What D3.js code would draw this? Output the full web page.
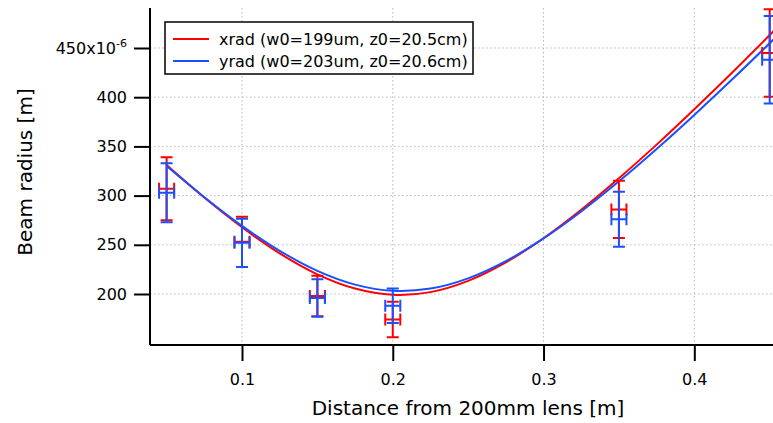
<!DOCTYPE html>
<html>
<head>
<meta charset="utf-8">
<script src="https://cdn.jsdelivr.net/npm/d3@7"></script>
<style>
body { margin: 0; background: #fff; }
text { font-family: "DejaVu Sans", sans-serif; fill: #000; }
</style>
</head>
<body>
<div id="chart"></div>
<script>
// measured beam radius (in 1e-6 m) at each lens distance (m)
var zPos = [0.05, 0.10, 0.15, 0.20, 0.35, 0.45];
var zErr = 0.005;
var xradVal = [307, 253, 198, 174, 286, 445];
var xradErr = [32, 25.5, 20.5, 18, 29, 44.5];
var yradVal = [303, 252, 196, 188, 276, 438];
var yradErr = [30, 24.5, 19, 17.5, 28, 44.5];

// fit curves
var fitZ = [0.05, 0.075, 0.1, 0.125, 0.15, 0.175, 0.2, 0.225, 0.25, 0.275, 0.3, 0.325, 0.35, 0.375, 0.4, 0.425, 0.455];
var xradFit = [331, 298, 267.8, 241.3, 220, 205.5, 199.2, 201.9, 213.3, 232.1, 256.7, 285.6, 317.6, 351.8, 387.8, 424.9, 470.8];
var yradFit = [330, 298.3, 269.2, 243.9, 223.5, 209.5, 203.2, 205.5, 215.9, 233.4, 256.5, 283.9, 314.5, 347.4, 382, 417.9, 462.3];

var xTicks = [0.1, 0.2, 0.3, 0.4];
var yTicks = [200, 250, 300, 350, 400, 450];
var legendLabels = ["xrad (w0=199um, z0=20.5cm)", "yrad (w0=203um, z0=20.6cm)"];

function init() {
    var red = "#ff0000", blue = "#1a50ff";
    var W = 773, H = 423;
    var pLeft = 150, pRight = 773, pTop = 8, pBottom = 345;

    var x = d3.scaleLinear().domain([0.03898, 0.45219]).range([pLeft, pRight]);
    var y = d3.scaleLinear().domain([148.17, 490.65]).range([pBottom, pTop]);

    var svg = d3.select("#chart").append("svg")
        .attr("width", W)
        .attr("height", H);

    svg.append("clipPath").attr("id", "plotclip")
        .append("rect")
        .attr("x", pLeft).attr("y", pTop)
        .attr("width", pRight - pLeft).attr("height", pBottom - pTop);

    // dotted grid
    var grid = svg.append("g");
    grid.selectAll("line.gx").data(xTicks).enter().append("line")
        .attr("x1", d => x(d)).attr("x2", d => x(d))
        .attr("y1", pTop).attr("y2", pBottom)
        .style("stroke", "#b8b8b8").style("stroke-width", 1)
        .style("stroke-dasharray", "1.5,2.5");
    grid.selectAll("line.gy").data(yTicks).enter().append("line")
        .attr("x1", pLeft).attr("x2", pRight)
        .attr("y1", d => y(d)).attr("y2", d => y(d))
        .style("stroke", "#b8b8b8").style("stroke-width", 1)
        .style("stroke-dasharray", "1.5,2.5");

    // fit lines
    var line = d3.line()
        .x(function(d) { return x(d[0]); })
        .y(function(d) { return y(d[1]); })
        .curve(d3.curveCatmullRom);

    var plot = svg.append("g").attr("clip-path", "url(#plotclip)");
    plot.append("path")
        .datum(d3.zip(fitZ, xradFit))
        .attr("d", line)
        .style("fill", "none").style("stroke", red).style("stroke-width", 2);
    plot.append("path")
        .datum(d3.zip(fitZ, yradFit))
        .attr("d", line)
        .style("fill", "none").style("stroke", blue).style("stroke-width", 2);

    // error bars (vertical + horizontal, with caps)
    var cap = 6;
    function errorBars(vals, errs, color) {
        var g = svg.append("g").style("stroke", color).style("stroke-width", 2).style("fill", "none");
        zPos.forEach(function(z, i) {
            var cx = x(z), cy = y(vals[i]);
            var y1 = y(vals[i] + errs[i]), y2 = y(vals[i] - errs[i]);
            var x1 = x(z - zErr), x2 = x(z + zErr);
            var p = "M" + cx + "," + y1 + "V" + y2 +
                "M" + (cx - cap) + "," + y1 + "H" + (cx + cap) +
                "M" + (cx - cap) + "," + y2 + "H" + (cx + cap) +
                "M" + x1 + "," + cy + "H" + x2 +
                "M" + x1 + "," + (cy - cap) + "V" + (cy + cap) +
                "M" + x2 + "," + (cy - cap) + "V" + (cy + cap);
            g.append("path").attr("d", p);
        });
    }
    errorBars(xradVal, xradErr, red);
    errorBars(yradVal, yradErr, blue);

    // axes
    var xAxis = d3.axisBottom(x).tickValues(xTicks).tickSize(16).tickPadding(13)
        .tickFormat(d3.format(".1f"));
    var gx = svg.append("g")
        .attr("transform", "translate(0," + pBottom + ")")
        .call(xAxis);
    gx.select(".domain").attr("d", "M" + pLeft + ",0H" + pRight);

    var yAxis = d3.axisLeft(y).tickValues(yTicks).tickSize(16).tickPadding(7)
        .tickFormat(function(d) { return d; });
    var gy = svg.append("g")
        .attr("transform", "translate(" + pLeft + ",0)")
        .call(yAxis);
    gy.select(".domain").attr("d", "M0," + pTop + "V" + pBottom);

    [gx, gy].forEach(function(g) {
        g.selectAll(".domain, .tick line").style("stroke", "#000").style("stroke-width", 2);
        g.selectAll(".tick text")
            .style("font-size", "16px")
            .style("font-family", "'DejaVu Sans', sans-serif")
            .attr("fill", "#000");
    });

    // top label with exponent
    var t450 = gy.selectAll(".tick").filter(function(d) { return d === 450; }).select("text");
    t450.text("450x10");
    t450.append("tspan").attr("dy", "-0.6em").style("font-size", "11px").text("-6");

    // axis titles
    svg.append("text")
        .attr("transform", "translate(25,172) rotate(-90)")
        .attr("text-anchor", "middle")
        .attr("dy", "0.35em")
        .style("font-size", "20px")
        .text("Beam radius [m]");
    svg.append("text")
        .attr("x", 468).attr("y", 415)
        .attr("text-anchor", "middle")
        .style("font-size", "20px")
        .text("Distance from 200mm lens [m]");

    // legend
    var lg = svg.append("g").attr("transform", "translate(165,22)");
    lg.append("rect")
        .attr("width", 308).attr("height", 52)
        .style("fill", "#fff").style("stroke", "#000").style("stroke-width", 1.5);
    [red, blue].forEach(function(c, i) {
        lg.append("line")
            .attr("x1", 8).attr("x2", 44)
            .attr("y1", 17 + i * 22).attr("y2", 17 + i * 22)
            .style("stroke", c).style("stroke-width", 2);
        lg.append("text")
            .attr("x", 54).attr("y", 17 + i * 22)
            .attr("dy", "0.35em")
            .style("font-size", "16px")
            .text(legendLabels[i]);
    });
}
init();
</script>
</body>
</html>
